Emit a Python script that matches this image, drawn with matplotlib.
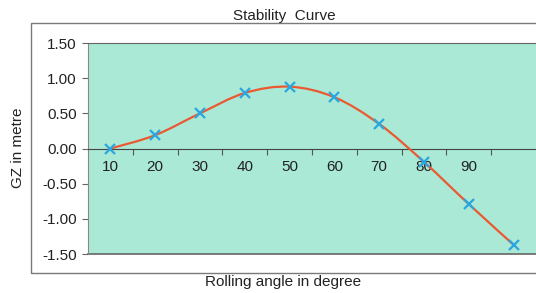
import numpy as np
import matplotlib
matplotlib.use('Agg')
import matplotlib.pyplot as plt
from matplotlib.path import Path
from matplotlib.patches import PathPatch, Rectangle

plt.rcParams['font.family'] = ['Liberation Sans', 'DejaVu Sans']

angles = [10, 20, 30, 40, 50, 60, 70, 80, 90, 100]
gz = [0.00, 0.19, 0.50, 0.79, 0.88, 0.73, 0.35, -0.19, -0.79, -1.37]
xlabels = ['10', '20', '30', '40', '50', '60', '70', '80', '90']
yticks = [-1.5, -1.0, -0.5, 0.0, 0.5, 1.0, 1.5]

fig = plt.figure(figsize=(5.36, 2.93), dpi=100)
fig.patch.set_facecolor('white')

# chart area frame (Excel style)
fig.patches.append(Rectangle((0.058, 0.068), 1.0, 0.853, transform=fig.transFigure,
                             fill=False, edgecolor='#7a7a7a', linewidth=1.0))

ax = fig.add_axes([0.164, 0.133, 0.836, 0.72])
ax.set_facecolor('#aae9d5')

# smoothed line like Excel (bezier through the points)
x = np.array(angles, dtype=float)
y = np.array(gz)
verts = [(x[0], y[0])]
codes = [Path.MOVETO]
for i in range(len(x) - 1):
    p0 = (x[max(i - 1, 0)], y[max(i - 1, 0)])
    p1 = (x[i], y[i])
    p2 = (x[i + 1], y[i + 1])
    p3 = (x[min(i + 2, len(x) - 1)], y[min(i + 2, len(x) - 1)])
    c1 = (p1[0] + (p2[0] - p0[0]) / 6, p1[1] + (p2[1] - p0[1]) / 6)
    c2 = (p2[0] - (p3[0] - p1[0]) / 6, p2[1] - (p3[1] - p1[1]) / 6)
    verts += [c1, c2, p2]
    codes += [Path.CURVE4] * 3
ax.add_patch(PathPatch(Path(verts, codes), facecolor='none', edgecolor='#ea5a32',
                       linewidth=1.6, zorder=3))
ax.plot(angles, gz, linestyle='none', marker='x', color='#2aa6e0',
        markersize=7, markeredgewidth=1.6, zorder=4)

ax.set_xlim(5, 105)
ax.set_ylim(-1.5, 1.5)

ax.spines['bottom'].set_position(('data', 0))
ax.spines['bottom'].set_color('#444444')
ax.spines['top'].set_color('#666666')
ax.spines['left'].set_color('#888888')
ax.spines['right'].set_visible(False)
ax.axhline(-1.5, color='#666666', linewidth=1.2, clip_on=False)

ax.set_xticks(np.arange(15, 100, 10))
ax.set_xticklabels([])
ax.set_xticks(angles[:-1], minor=True)
ax.set_xticklabels(xlabels, minor=True)
ax.tick_params(axis='x', which='major', direction='out', length=4, color='#555555')
ax.tick_params(axis='x', which='minor', length=0, pad=8, labelsize=11,
               labelcolor='#222222')

ax.set_yticks(yticks)
ax.set_yticklabels([f'{v:.2f}' for v in yticks])
ax.tick_params(axis='y', direction='out', length=4, color='#666666', labelsize=11,
               labelcolor='#222222', pad=4)

fig.text(0.53, 0.947, 'Stability  Curve', ha='center', va='center', fontsize=11,
         color='#222222')
fig.text(0.034, 0.495, 'GZ in metre', ha='center', va='center', rotation=90,
         fontsize=11, color='#222222')
fig.text(0.528, 0.036, 'Rolling angle in degree', ha='center', va='center',
         fontsize=11, color='#222222')

fig.savefig('out.png', dpi=100)
